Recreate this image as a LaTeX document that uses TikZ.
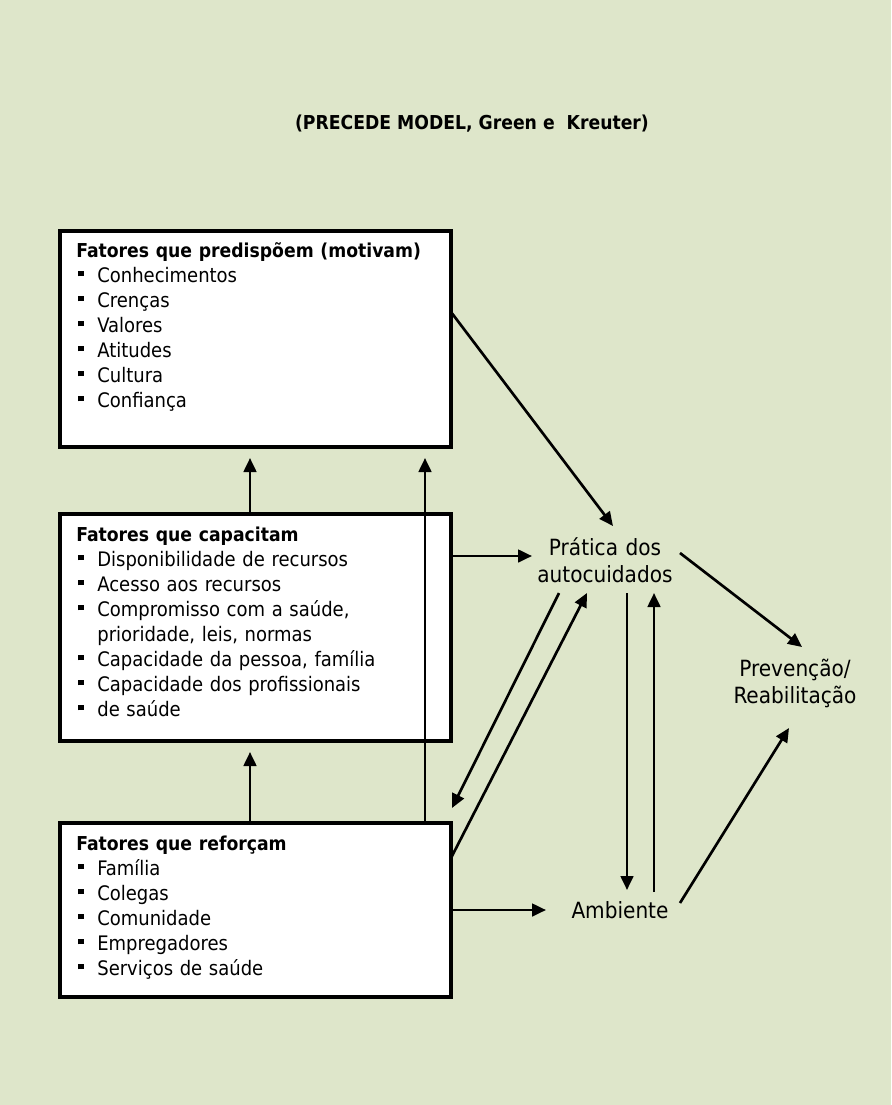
\documentclass[tikz,border=0pt]{standalone}
\usepackage{fontspec}
\setmainfont{DejaVu Sans Condensed}
\usetikzlibrary{arrows.meta,fit}

\definecolor{verdefundo}{RGB}{222,230,202}
\newcommand{\quadrado}{\makebox[12.6pt][l]{\hspace{1.2pt}\rule[3.4pt]{3.2pt}{3.2pt}}}

\tikzset{
  caixa/.style={draw,line width=1.9pt,fill=white,inner sep=0pt},
  lista/.style={anchor=base west,inner sep=0pt,text width=222pt,align=left,font=\fontsize{12}{15}\selectfont},
  rotulo/.style={anchor=base,inner sep=0pt,text width=90pt,align=center,font=\fontsize{13.4}{16.2}\selectfont},
  seta/.style={line width=1.6pt,-{Triangle[length=8.4pt,width=7.6pt]}}
}

\begin{document}
\begin{tikzpicture}[x=0.6pt,y=-0.6pt]
\fill[verdefundo] (0,0) rectangle (891,1105);
\useasboundingbox (0,0) rectangle (891,1105);

\node[font=\fontsize{11.5}{14}\selectfont\bfseries,anchor=base] (titulo) at (472,129) {(PRECEDE MODEL, Green e\ \ Kreuter)};

\coordinate (P1) at (60,231);
\coordinate (P2) at (451,447);
\node[caixa,fit=(P1)(P2)] (pred) {};

\coordinate (C1) at (60,514);
\coordinate (C2) at (451,741);
\node[caixa,fit=(C1)(C2)] (capac) {};

\coordinate (R1) at (60,823);
\coordinate (R2) at (451,997);
\node[caixa,fit=(R1)(R2)] (reforc) {};

\node[lista] (tpred) at (76,257) {{\fontsize{11.5}{15}\selectfont\bfseries Fatores que predispõem (motivam)}\\
\quadrado Conhecimentos\\
\quadrado Crenças\\
\quadrado Valores\\
\quadrado Atitudes\\
\quadrado Cultura\\
\quadrado Confiança};

\node[lista] (tcapac) at (76,541) {{\fontsize{11.5}{15}\selectfont\bfseries Fatores que capacitam}\\
\quadrado Disponibilidade de recursos\\
\quadrado Acesso aos recursos\\
\quadrado Compromisso com a saúde,\\
\hspace*{12.6pt}prioridade, leis, normas\\
\quadrado Capacidade da pessoa, família\\
\quadrado Capacidade dos profissionais\\
\quadrado de saúde};

\node[lista] (treforc) at (76,850) {{\fontsize{11.5}{15}\selectfont\bfseries Fatores que reforçam}\\
\quadrado Família\\
\quadrado Colegas\\
\quadrado Comunidade\\
\quadrado Empregadores\\
\quadrado Serviços de saúde};

\node[rotulo] (prat) at (605,555) {Prática dos\\autocuidados};
\node[rotulo] (prev) at (795,676) {Prevenção/\\Reabilitação};
\node[rotulo] (amb) at (620,918) {Ambiente};

\coordinate (tA) at (250,458);
\coordinate (tB) at (425,458);
\coordinate (tC) at (250,752);
\draw[seta] (tA |- capac.north) -- (tA);
\draw[seta] (tB |- reforc.north) -- (tB);
\draw[seta] (tC |- reforc.north) -- (tC);

\coordinate (s1) at (451,312);
\coordinate (e1) at (613,526);
\draw[seta] (s1) -- (e1);

\coordinate (s2) at (451,556);
\coordinate (e2) at (532,556);
\draw[seta] (s2) -- (e2);

\coordinate (s3) at (680,553);
\coordinate (e3) at (802,647);
\draw[seta] (s3) -- (e3);

\coordinate (s4) at (559,593);
\coordinate (e4) at (452,808);
\draw[seta] (s4) -- (e4);

\coordinate (s5) at (451,858);
\coordinate (e5) at (587,593);
\draw[seta] (s5) -- (e5);

\coordinate (s6) at (627,593);
\coordinate (e6) at (627,890);
\draw[seta] (s6) -- (e6);

\coordinate (s7) at (654,892);
\coordinate (e7) at (654,593);
\draw[seta] (s7) -- (e7);

\coordinate (s8) at (680,903);
\coordinate (e8) at (789,728);
\draw[seta] (s8) -- (e8);

\coordinate (s9) at (451,910);
\coordinate (e9) at (546,910);
\draw[seta] (s9) -- (e9);

\end{tikzpicture}
\end{document}
